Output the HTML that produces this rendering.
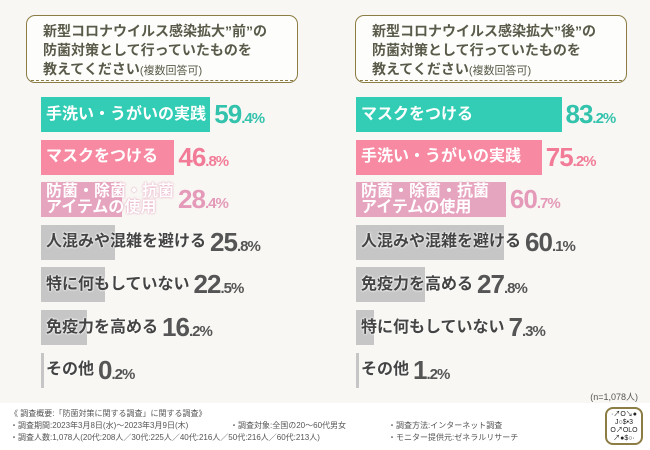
<!DOCTYPE html>
<html><head><meta charset="utf-8">
<style>
*{margin:0;padding:0;box-sizing:border-box}
body{width:650px;height:450px;background:#f8f7f3;font-family:"Liberation Sans","Noto Sans CJK JP",sans-serif;position:relative;overflow:hidden}
.title{position:absolute;top:15px;height:68px;border:1.5px solid #8c7d45;border-radius:9px;background:#fdfdfb;padding:6px 0 0 16px;font-size:14px;font-weight:bold;color:#5a5a4a;line-height:19px}
.title:after{content:"";position:absolute;left:4px;right:4px;bottom:1px;border-bottom:1px dashed #8c7d45}
.title small{font-size:11px;font-weight:normal}
.row{position:absolute;height:35px;display:flex;align-items:center}
.bar{position:absolute;left:0;top:0;height:35px}
.lab{position:relative;padding-left:5px;font-size:16px;font-weight:bold;white-space:nowrap;line-height:16px}
.val{position:relative;margin-left:4px;font-family:"Liberation Sans Narrow","Liberation Sans",sans-serif;font-size:26px;font-weight:bold;letter-spacing:-1px;white-space:nowrap}
.val small{font-size:15px}
.foot{position:absolute;left:10px;top:408px;font-size:8px;color:#555;line-height:11px}
.foot span{position:absolute;white-space:nowrap}
</style></head><body>
<div class="title" style="left:26px;width:272px">新型コロナウイルス感染拡大”前”の<br>防菌対策として行っていたものを<br>教えてください<small>(複数回答可)</small></div>
<div class="title" style="left:355px;width:272px">新型コロナウイルス感染拡大”後”の<br>防菌対策として行っていたものを<br>教えてください<small>(複数回答可)</small></div>
<div id="charts"></div>
<div style="position:absolute;right:12px;top:390px;font-size:9px;color:#555">(n=1,078人)</div>
<div style="position:absolute;left:0;right:0;top:403px;height:47px;background:#fff"></div>
<div class="foot">
<span style="left:0;top:0">《 調査概要:「防菌対策に関する調査」に関する調査》</span>
<span style="left:0;top:12px">・調査期間:2023年3月8日(水)～2023年3月9日(木)</span>
<span style="left:220px;top:12px">・調査対象:全国の20～60代男女</span>
<span style="left:378px;top:12px">・調査方法:インターネット調査</span>
<span style="left:0;top:24px">・調査人数:1,078人(20代:208人／30代:225人／40代:216人／50代:216人／60代:213人)</span>
<span style="left:378px;top:24px">・モニター提供元:ゼネラルリサーチ</span>
</div>
<div style="position:absolute;left:605px;top:407px;width:38px;height:38px;border:2px solid #8c7d45;border-radius:8px;background:#fff;font-size:7px;line-height:8px;text-align:center;padding-top:2px;color:#222">·↗O↘●<br>J○$•3<br>O↗OLO<br>↗●$○·</div>
<script>
const leftLabels=["手洗い・うがいの実践","マスクをつける","防菌・除菌・抗菌<br>アイテムの使用","人混みや混雑を避ける","特に何もしていない","免疫力を高める","その他"];
const leftValues=[59.4,46.8,28.4,25.8,22.5,16.2,0.2];
const rightLabels=["マスクをつける","手洗い・うがいの実践","防菌・除菌・抗菌<br>アイテムの使用","人混みや混雑を避ける","免疫力を高める","特に何もしていない","その他"];
const rightValues=[83.2,75.2,60.7,60.1,27.8,7.3,1.2];
const styles=[{bar:"#33cdb5",val:"#33c3ad",txt:"#fff"},{bar:"#f78aa2",val:"#f27c98",txt:"#fff"},{bar:"#e6a5bf",val:"#e49ab8",txt:"#fff"}];
const gray={bar:"#c6c6c6",val:"#555",txt:"#444"};
const root=document.getElementById('charts');
function draw(labels,values,x0,scale,side){
  values.forEach((v,i)=>{
    const s=styles[i]||gray;
    const w=Math.max(v*scale,3);
    const row=document.createElement('div');
    row.className='row';
    
    
    row.style.left=x0+'px';row.style.top=(97+i*42.6)+'px';
    const bar=document.createElement('div');
    bar.className='bar';
    
    
    bar.style.width=w+'px';bar.style.background=s.bar;
    row.appendChild(bar);
    const lab=document.createElement('div');
    lab.className='lab';
    
    
    lab.innerHTML=labels[i];
    lab.style.minWidth=w+'px';lab.style.color=s.txt;
    lab.style.textShadow=s.txt==='#fff'?'0 0 2px '+s.bar+',0 0 1px '+s.bar:'0 0 2px #fff,0 0 2px #fff';
    row.appendChild(lab);
    const val=document.createElement('div');
    val.className='val';
    
    
    const p=v.toFixed(1).split('.');
    val.innerHTML=p[0]+'<small>.'+p[1]+'%</small>';
    val.style.color=s.val;
    row.appendChild(val);
    root.appendChild(row);
  });
}
draw(leftLabels,leftValues,41,2.85,'left');
draw(rightLabels,rightValues,356,2.47,'right');
</script>
</body></html>
